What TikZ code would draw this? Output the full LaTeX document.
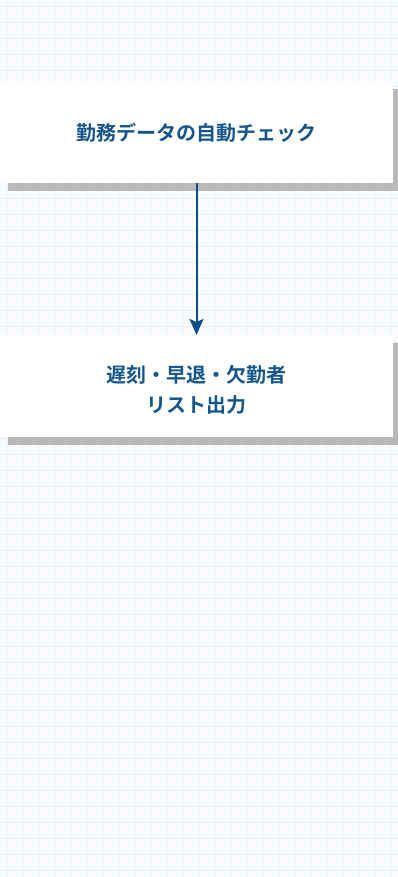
\documentclass[tikz,border=0pt]{standalone}
\usepackage{fontspec}
\newfontfamily\cjk{Noto Sans CJK JP}[BoldFont={Noto Sans CJK JP Bold}]
\usetikzlibrary{arrows.meta}
\definecolor{bg}{HTML}{FAFBFC}
\definecolor{gridc}{HTML}{E6EFF6}
\definecolor{txt}{HTML}{14558C}
\definecolor{arr}{HTML}{0B4F8A}
\tikzset{
  shadowbox/.style={fill=black!30, fill opacity=0.9, draw=none},
  lbl/.style={font=\cjk\bfseries\fontsize{20pt}{30pt}\selectfont, text=txt, align=center},
  flow/.style={draw=arr, line width=2pt, -{Stealth[length=16pt,width=14pt,inset=3pt]}}
}
\begin{document}
\begin{tikzpicture}[x=1pt,y=-1pt]
\useasboundingbox (0,0) rectangle (398,877);
\fill[bg] (0,0) rectangle (398,877);
\begin{scope}
\clip (0,0) rectangle (398,877);
\foreach \i in {0,...,25} { \draw[gridc, line width=1pt] ({6.7+16*\i},0) -- ({6.7+16*\i},877); }
\foreach \j in {0,...,55} { \draw[gridc, line width=1pt] (0,{6.7+16*\j}) -- (398,{6.7+16*\j}); }
% shadows
\fill[shadowbox] (8,89) rectangle (401,191);
\fill[shadowbox] (8,343) rectangle (401,445);
\end{scope}
% cards
\fill[white] (0,81) rectangle (393,183);
\fill[white] (0,335) rectangle (393,437);
\coordinate (b1s) at (196.5,183);
\coordinate (b2n) at (196.5,335);
\node[lbl] (t1) at (196.5,133) {勤務データの自動チェック};
\node[lbl] (t2) at (196.5,390) {遅刻・早退・欠勤者\\リスト出力};
\draw[flow] (b1s) -- (b2n);
\end{tikzpicture}
\end{document}
